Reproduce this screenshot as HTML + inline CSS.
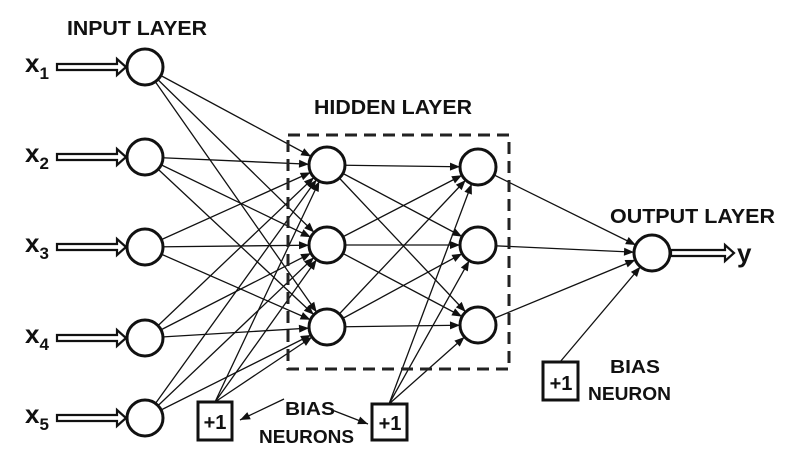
<!DOCTYPE html>
<html><head><meta charset="utf-8"><style>
html,body{margin:0;padding:0;background:#fff;width:787px;height:455px;overflow:hidden}
svg text{font-family:"Liberation Sans",sans-serif;font-weight:bold;fill:#111}
</style></head><body>
<svg width="787" height="455" viewBox="0 0 787 455" xmlns="http://www.w3.org/2000/svg">
<defs>
<marker id="a" markerUnits="userSpaceOnUse" markerWidth="14" markerHeight="10" refX="28" refY="4" orient="auto" overflow="visible">
<path d="M0,0 L10,4 L0,8 Z" fill="#111"/>
</marker>
<marker id="b" markerUnits="userSpaceOnUse" markerWidth="14" markerHeight="10" refX="10" refY="4" orient="auto" overflow="visible">
<path d="M0,0 L10,4 L0,8 Z" fill="#111"/>
</marker>
</defs>
<g stroke="#111" stroke-width="1.3" marker-end="url(#a)">
<line x1="145" y1="67" x2="327" y2="165"/><line x1="145" y1="67" x2="327" y2="245"/><line x1="145" y1="67" x2="327" y2="327"/>
<line x1="145" y1="157" x2="327" y2="165"/><line x1="145" y1="157" x2="327" y2="245"/><line x1="145" y1="157" x2="327" y2="327"/>
<line x1="145" y1="247" x2="327" y2="165"/><line x1="145" y1="247" x2="327" y2="245"/><line x1="145" y1="247" x2="327" y2="327"/>
<line x1="145" y1="338" x2="327" y2="165"/><line x1="145" y1="338" x2="327" y2="245"/><line x1="145" y1="338" x2="327" y2="327"/>
<line x1="145" y1="418" x2="327" y2="165"/><line x1="145" y1="418" x2="327" y2="245"/><line x1="145" y1="418" x2="327" y2="327"/>
<line x1="215" y1="402" x2="327" y2="165"/><line x1="215" y1="402" x2="327" y2="245"/><line x1="215" y1="402" x2="327" y2="327"/>
<line x1="327" y1="165" x2="478" y2="167"/><line x1="327" y1="165" x2="478" y2="245"/><line x1="327" y1="165" x2="478" y2="325"/>
<line x1="327" y1="245" x2="478" y2="167"/><line x1="327" y1="245" x2="478" y2="245"/><line x1="327" y1="245" x2="478" y2="325"/>
<line x1="327" y1="327" x2="478" y2="167"/><line x1="327" y1="327" x2="478" y2="245"/><line x1="327" y1="327" x2="478" y2="325"/>
<line x1="389" y1="404" x2="478" y2="167"/><line x1="389" y1="404" x2="478" y2="245"/><line x1="389" y1="404" x2="478" y2="325"/>
<line x1="478" y1="167" x2="652" y2="253"/><line x1="478" y1="245" x2="652" y2="253"/><line x1="478" y1="325" x2="652" y2="253"/>
<line x1="560" y1="362" x2="652" y2="253"/>
</g>
<rect x="288" y="135" width="221" height="234" fill="none" stroke="#222" stroke-width="3" stroke-dasharray="12,7"/>
<g fill="#fff" stroke="#111" stroke-width="3">
<circle cx="145" cy="67" r="18"/><circle cx="145" cy="157" r="18"/><circle cx="145" cy="247" r="18"/><circle cx="145" cy="338" r="18"/><circle cx="145" cy="418" r="18"/>
<circle cx="327" cy="165" r="18"/><circle cx="327" cy="245" r="18"/><circle cx="327" cy="327" r="18"/>
<circle cx="478" cy="167" r="18"/><circle cx="478" cy="245" r="18"/><circle cx="478" cy="325" r="18"/>
<circle cx="652" cy="253" r="18"/>
<rect x="198" y="402" width="34" height="38"/><rect x="372" y="404" width="35" height="36"/><rect x="543" y="362" width="35" height="38"/>
</g>
<g fill="#fff" stroke="#111" stroke-width="2.2" stroke-linejoin="miter">
<path d="M57,64 L117,64 L117,59 L126,67 L117,75 L117,70 L57,70 Z"/>
<path d="M57,154 L117,154 L117,149 L126,157 L117,165 L117,160 L57,160 Z"/>
<path d="M57,244 L117,244 L117,239 L126,247 L117,255 L117,250 L57,250 Z"/>
<path d="M57,335 L117,335 L117,330 L126,338 L117,346 L117,341 L57,341 Z"/>
<path d="M57,415 L117,415 L117,410 L126,418 L117,426 L117,421 L57,421 Z"/>
<path d="M671,250 L725,250 L725,245 L734,253 L725,261 L725,256 L671,256 Z"/>
</g>
<g stroke="#111" stroke-width="1.3">
<line x1="284" y1="399" x2="240" y2="420" marker-end="url(#b)"/>
<line x1="332" y1="410" x2="368" y2="424" marker-end="url(#b)"/>
</g>
<text x="67" y="35" font-size="20" textLength="140" lengthAdjust="spacingAndGlyphs">INPUT LAYER</text>
<text x="314" y="114" font-size="20" textLength="158" lengthAdjust="spacingAndGlyphs">HIDDEN LAYER</text>
<text x="610" y="223" font-size="20" textLength="165" lengthAdjust="spacingAndGlyphs">OUTPUT LAYER</text>
<text x="737" y="262" font-size="26">y</text>
<g font-size="26">
<text x="25" y="72">x<tspan font-size="17" dy="7">1</tspan></text>
<text x="25" y="162">x<tspan font-size="17" dy="7">2</tspan></text>
<text x="25" y="252">x<tspan font-size="17" dy="7">3</tspan></text>
<text x="25" y="343">x<tspan font-size="17" dy="7">4</tspan></text>
<text x="25" y="423">x<tspan font-size="17" dy="7">5</tspan></text>
</g>
<g font-size="20">
<text x="215" y="429" text-anchor="middle">+1</text>
<text x="390" y="430" text-anchor="middle">+1</text>
<text x="561" y="390" text-anchor="middle">+1</text>
</g>
<g font-size="18">
<text x="285" y="415" textLength="50" lengthAdjust="spacingAndGlyphs">BIAS</text>
<text x="259" y="443" textLength="95" lengthAdjust="spacingAndGlyphs">NEURONS</text>
<text x="610" y="373" textLength="50" lengthAdjust="spacingAndGlyphs">BIAS</text>
<text x="588" y="400" textLength="83" lengthAdjust="spacingAndGlyphs">NEURON</text>
</g>
</svg>
</body></html>
